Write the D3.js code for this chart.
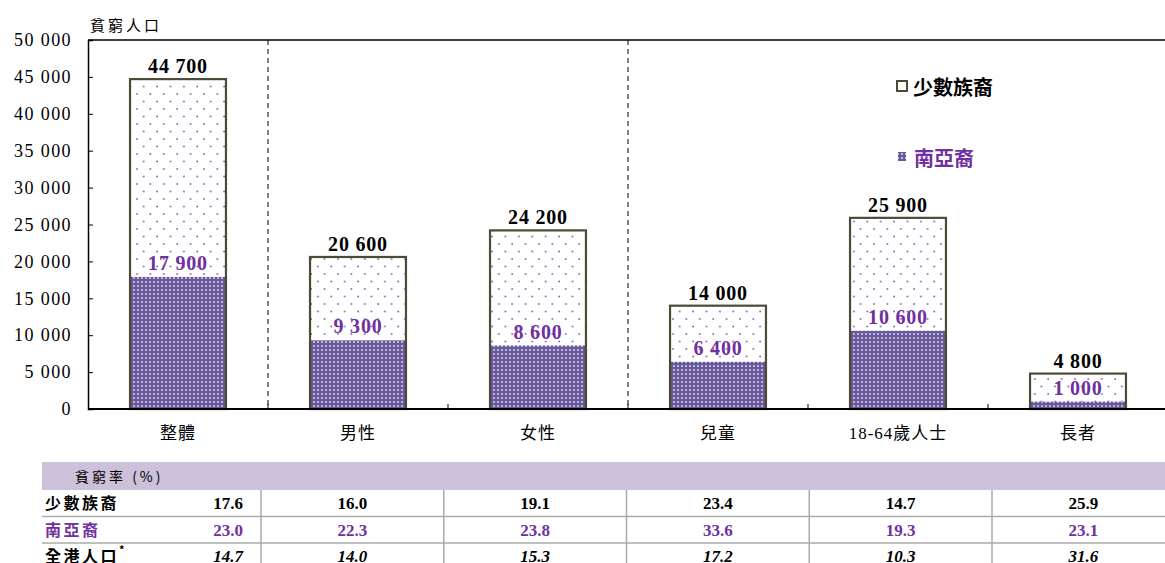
<!DOCTYPE html>
<html>
<head>
<meta charset="utf-8">
<script src="https://cdn.jsdelivr.net/npm/d3@7"></script>
<style>
  body { margin: 0; background: #fff; }
  svg { display: block; }
  text { font-family: "Liberation Serif", "Noto Sans CJK TC", serif; }
  .cjk { font-family: "Noto Sans CJK TC", sans-serif; }
</style>
</head>
<body>
<svg id="chart" width="1165" height="563"></svg>
<script>
// poverty numbers by group
const categories = ["整體", "男性", "女性", "兒童", "18-64歲人士", "長者"];
const minority = [44700, 20600, 24200, 14000, 25900, 4800];
const southAsian = [17900, 9300, 8600, 6400, 10600, 1000];
const yTicks = [0, 5000, 10000, 15000, 20000, 25000, 30000, 35000, 40000, 45000, 50000];

// poverty rate table
const rowLabels = ["少數族裔", "南亞裔", "全港人口"];
const rateMinority = [17.6, 16.0, 19.1, 23.4, 14.7, 25.9];
const rateSouthAsian = [23.0, 22.3, 23.8, 33.6, 19.3, 23.1];
const rateAll = [14.7, 14.0, 15.3, 17.2, 10.3, 31.6];

const purple = "#7030a0";
const olive = "#4f4a35";

const svg = d3.select("#chart");
const fmt = v => d3.format(",")(v).replace(/,/g, " ");

const x = d3.scaleBand()
    .domain(categories)
    .range([88, 88 + 6 * 180])
    .paddingInner(0.467)
    .paddingOuter(0.2335);

const y = d3.scaleLinear()
    .domain([0, 50000])
    .range([409, 40]);

// patterns
const defs = svg.append("defs");
const sparse = defs.append("pattern")
    .attr("id", "sparse")
    .attr("patternUnits", "userSpaceOnUse")
    .attr("width", 13.4).attr("height", 15);
sparse.append("rect").attr("width", 13.4).attr("height", 15).attr("fill", "#fff");
sparse.append("circle").attr("cx", 3).attr("cy", 4).attr("r", 0.9).attr("fill", "#7a62b0");
sparse.append("circle").attr("cx", 9.7).attr("cy", 11.5).attr("r", 0.9).attr("fill", "#7a62b0");

const dense = defs.append("pattern")
    .attr("id", "dense")
    .attr("patternUnits", "userSpaceOnUse")
    .attr("width", 4).attr("height", 4);
dense.append("rect").attr("width", 4).attr("height", 4).attr("fill", "#68589c");
dense.append("circle").attr("cx", 2).attr("cy", 2).attr("r", 1).attr("fill", "#d9d2e8");

// frame
svg.append("line").attr("x1", 88).attr("x2", 1165).attr("y1", y(50000)).attr("y2", y(50000))
    .attr("stroke", "#000").attr("stroke-width", 1.5);

const yAxis = svg.append("g")
    .attr("transform", "translate(88,0)")
    .call(d3.axisLeft(y).tickValues(yTicks).tickSize(-5).tickPadding(16).tickFormat(fmt));
yAxis.select(".domain").attr("stroke", "#000").attr("stroke-width", 1.5);
yAxis.selectAll("text").attr("font-size", 18).attr("fill", "#000")
    .attr("letter-spacing", 1.4)
    .style("font-family", "'Liberation Serif', serif");

svg.append("text")
    .attr("class", "cjk")
    .attr("x", 90).attr("y", 31)
    .attr("font-size", 15)
    .attr("letter-spacing", 3)
    .text("貧窮人口");

// dashed separators
const step = x.step();
[0, 2].forEach(i => {
    const sx = x(categories[i]) + x.bandwidth() + (step - x.bandwidth()) / 2;
    svg.append("line")
        .attr("x1", sx).attr("x2", sx)
        .attr("y1", y(50000)).attr("y2", y(0))
        .attr("stroke", "#000").attr("stroke-width", 1)
        .attr("stroke-dasharray", "5,4");
});

// bars
const rows = categories.map((c, i) => ({ c, total: minority[i], sa: southAsian[i] }));

const bars = svg.append("g").selectAll("g")
    .data(rows).enter().append("g");

bars.append("rect")
    .attr("x", d => x(d.c)).attr("width", x.bandwidth())
    .attr("y", d => y(d.total)).attr("height", d => y(0) - y(d.total))
    .attr("fill", "url(#sparse)");

bars.append("rect")
    .attr("x", d => x(d.c)).attr("width", x.bandwidth())
    .attr("y", d => y(d.sa)).attr("height", d => y(0) - y(d.sa))
    .attr("fill", "url(#dense)");

bars.append("rect")
    .attr("x", d => x(d.c)).attr("width", x.bandwidth())
    .attr("y", d => y(d.total)).attr("height", d => y(0) - y(d.total))
    .attr("fill", "none").attr("stroke", olive).attr("stroke-width", 2.2);

bars.append("text")
    .attr("x", d => x(d.c) + x.bandwidth() / 2)
    .attr("y", d => y(d.total) - 6)
    .attr("text-anchor", "middle")
    .attr("font-size", 20).attr("font-weight", "bold")
    .attr("letter-spacing", 0.8)
    .text(d => fmt(d.total));

bars.append("text")
    .attr("x", d => x(d.c) + x.bandwidth() / 2)
    .attr("y", d => y(d.sa) - 7)
    .attr("text-anchor", "middle")
    .attr("font-size", 20).attr("font-weight", "bold")
    .attr("letter-spacing", 0.8)
    .attr("fill", purple)
    .text(d => fmt(d.sa));

// x axis
const xAxis = svg.append("g")
    .attr("transform", `translate(0,${y(0)})`)
    .call(d3.axisBottom(x).tickSize(0).tickPadding(18));
xAxis.select(".domain").attr("d", `M88,0H1165`).attr("stroke", "#000").attr("stroke-width", 2);
xAxis.selectAll("text").attr("font-size", 17).attr("fill", "#000")
    .attr("letter-spacing", 1)
    .style("font-family", "'Liberation Serif', 'Noto Sans CJK TC', serif");
categories.slice(1).forEach(c => {
    const bx = x(c) - (step - x.bandwidth()) / 2;
    xAxis.append("line").attr("x1", bx).attr("x2", bx).attr("y1", 0).attr("y2", -5)
        .attr("stroke", "#000");
});

// legend
svg.append("rect").attr("x", 897).attr("y", 81).attr("width", 10).attr("height", 10)
    .attr("fill", "#fff").attr("stroke", olive).attr("stroke-width", 2);
svg.append("text").attr("class", "cjk").attr("x", 913).attr("y", 95)
    .attr("font-size", 20).attr("font-weight", "bold").text("少數族裔");
svg.append("rect").attr("x", 898).attr("y", 152).attr("width", 8).attr("height", 9)
    .attr("fill", "url(#dense)");
svg.append("text").attr("class", "cjk").attr("x", 914).attr("y", 166)
    .attr("font-size", 20).attr("font-weight", "bold").attr("fill", purple).text("南亞裔");

// rate table
const tableTop = 462, headH = 28, rowH = 26.5;
const colX = d3.scaleLinear().domain([0, 1]).range([261, 261 + 182.75]);
svg.append("rect").attr("x", 42).attr("y", tableTop).attr("width", 1123).attr("height", headH)
    .attr("fill", "#ccc0da");
svg.append("text").attr("class", "cjk").attr("x", 75).attr("y", tableTop + 20)
    .attr("font-size", 14).attr("letter-spacing", 3).text("貧窮率 (%)");

const tableRows = [
    { label: rowLabels[0], vals: rateMinority, color: "#000", italic: false },
    { label: rowLabels[1], vals: rateSouthAsian, color: purple, italic: false },
    { label: rowLabels[2], vals: rateAll, color: "#000", italic: true }
];

tableRows.forEach((r, ri) => {
    const top = tableTop + headH + ri * rowH;
    if (ri > 0) {
        svg.append("line").attr("x1", 42).attr("x2", 1165).attr("y1", top).attr("y2", top)
            .attr("stroke", "#aaa").attr("stroke-width", 1.5);
    }
    const lbl = svg.append("text").attr("class", "cjk").attr("x", 45).attr("y", top + 19)
        .attr("font-size", 16).attr("font-weight", "bold").attr("fill", r.color)
        .attr("letter-spacing", 2.5).text(r.label);
    if (ri === 2) {
        lbl.append("tspan").attr("dy", -8).attr("font-size", 11).text("*");
    }
    r.vals.forEach((v, ci) => {
        const cx = ci === 0 ? 243 : colX(ci - 1) + 182.75 / 2;
        svg.append("text")
            .attr("x", cx).attr("y", top + 19)
            .attr("text-anchor", ci === 0 ? "end" : "middle")
            .attr("font-size", 17).attr("font-weight", "bold")
            .attr("font-style", r.italic ? "italic" : "normal")
            .attr("fill", r.color)
            .text(v.toFixed(1));
    });
});
for (let k = 0; k < 6; k++) {
    const lx = colX(k);
    svg.append("line").attr("x1", lx).attr("x2", lx).attr("y1", tableTop + headH).attr("y2", 563)
        .attr("stroke", "#aaa").attr("stroke-width", 1.5);
}
</script>
</body>
</html>
